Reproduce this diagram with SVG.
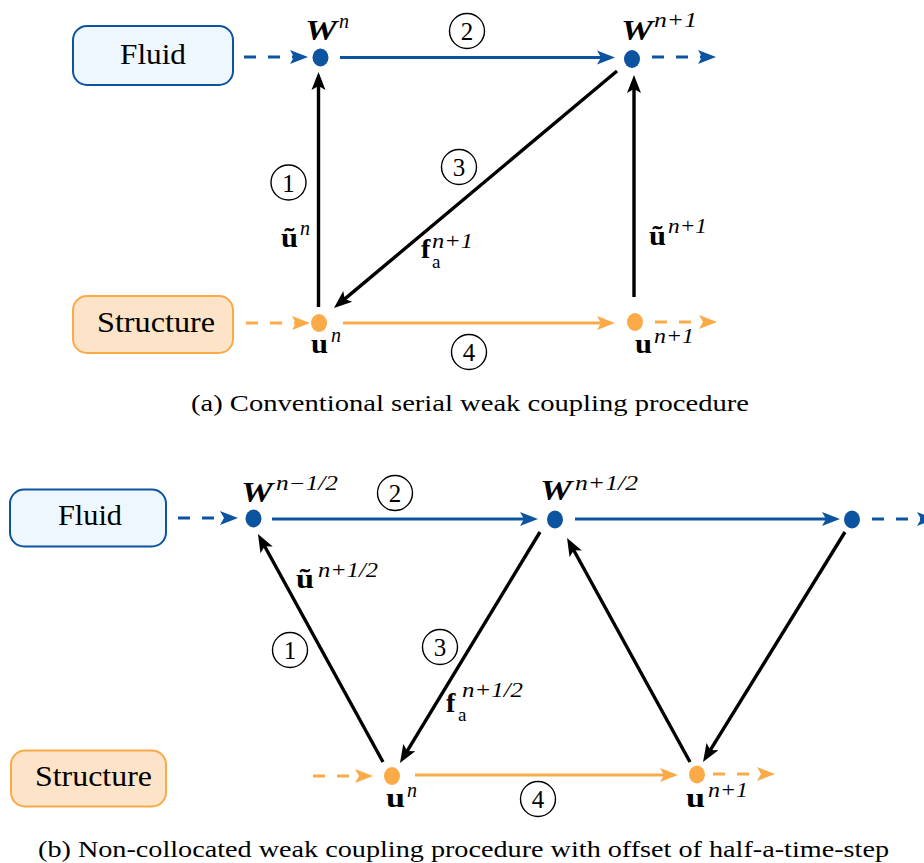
<svg xmlns="http://www.w3.org/2000/svg" width="924" height="863" viewBox="0 0 924 863" font-family="'Liberation Serif', 'DejaVu Serif', 'Times New Roman', serif">
<style>
text{fill:#000}
.box{font-size:30px}
.cap{font-size:24px}
.m{font-size:28px;font-weight:bold}
.wi{font-size:29px;font-weight:bold;font-style:italic}
.sup{font-size:20px;font-style:italic}
.sub{font-size:19px}
.num{font-size:25px;text-anchor:middle}
.circ{fill:none;stroke:#000;stroke-width:1.4}
.fluid rect{fill:#eef6fe;stroke:#0c54a0;stroke-width:2}
.struct rect{fill:#fde3c8;stroke:#fbaa48;stroke-width:2}
.bn{fill:#0c54a0}
.on{fill:#fbaa48}
.lb{stroke:#0c54a0;stroke-width:3.2;fill:none}
.lo{stroke:#fbaa48;stroke-width:3.2;fill:none}
.lk{stroke:#000;stroke-width:3.4;fill:none}
.d{stroke-dasharray:12 12}
</style>
<defs>
<marker id="ab" markerUnits="userSpaceOnUse" markerWidth="20" markerHeight="16" refX="10" refY="7" orient="auto" overflow="visible"><path d="M0,0 L18,7 L0,14 L4,7 Z" fill="#0c54a0"/></marker>
<marker id="ao" markerUnits="userSpaceOnUse" markerWidth="20" markerHeight="16" refX="10" refY="7" orient="auto" overflow="visible"><path d="M0,0 L18,7 L0,14 L4,7 Z" fill="#fbaa48"/></marker>
<marker id="ak" markerUnits="userSpaceOnUse" markerWidth="20" markerHeight="16" refX="10" refY="7" orient="auto" overflow="visible"><path d="M0,0 L18,7 L0,14 L4,7 Z" fill="#000"/></marker>
</defs>

<g id="connectors">
<line class="lb d" x1="244" y1="57" x2="300" y2="57" marker-end="url(#ab)"/>
<line class="lb" x1="340" y1="57.5" x2="607" y2="57.5" marker-end="url(#ab)"/>
<line class="lb d" x1="652" y1="57" x2="708" y2="57" marker-end="url(#ab)"/>
<line class="lk" x1="318.5" y1="307" x2="318.5" y2="80" marker-end="url(#ak)"/>
<line class="lk" x1="617" y1="71" x2="340.1" y2="302.9" marker-end="url(#ak)"/>
<line class="lk" x1="634" y1="297" x2="634" y2="83" marker-end="url(#ak)"/>
<line class="lo d" x1="246" y1="323" x2="302" y2="323" marker-end="url(#ao)"/>
<line class="lo" x1="343" y1="323" x2="607" y2="323" marker-end="url(#ao)"/>
<line class="lo d" x1="655" y1="322" x2="709" y2="322" marker-end="url(#ao)"/>
<line class="lb d" x1="178" y1="518" x2="230" y2="518" marker-end="url(#ab)"/>
<line class="lb" x1="272" y1="519" x2="530" y2="519" marker-end="url(#ab)"/>
<line class="lb" x1="575" y1="519" x2="832" y2="519" marker-end="url(#ab)"/>
<line class="lb d" x1="872" y1="519" x2="927" y2="519" marker-end="url(#ab)"/>
<line class="lk" x1="383" y1="762" x2="261.8" y2="541" marker-end="url(#ak)"/>
<line class="lk" x1="540" y1="532" x2="404.1" y2="756.2" marker-end="url(#ak)"/>
<line class="lk" x1="690" y1="762" x2="570.9" y2="545" marker-end="url(#ak)"/>
<line class="lk" x1="845" y1="532" x2="707.2" y2="755.2" marker-end="url(#ak)"/>
<line class="lo d" x1="313" y1="776" x2="365" y2="776" marker-end="url(#ao)"/>
<line class="lo" x1="415" y1="775" x2="670" y2="775" marker-end="url(#ao)"/>
<line class="lo d" x1="713" y1="774" x2="767" y2="774" marker-end="url(#ao)"/>
</g>

<g id="fluid-a" class="fluid"><rect x="73" y="26" width="160" height="59" rx="14"/><text class="box" x="153" y="64" text-anchor="middle" textLength="66" lengthAdjust="spacingAndGlyphs">Fluid</text></g>
<g id="structure-a" class="struct"><rect x="73" y="296" width="160" height="57" rx="14"/><text class="box" x="156" y="332" text-anchor="middle" textLength="118" lengthAdjust="spacingAndGlyphs">Structure</text></g>

<g id="Wn-a"><ellipse class="bn" cx="320.5" cy="57.5" rx="8" ry="9"/><text class="wi" x="305" y="40" textLength="32" lengthAdjust="spacingAndGlyphs">W</text><text class="sup" x="339" y="28">n</text></g>
<g id="Wn1-a"><ellipse class="bn" cx="632" cy="59" rx="8" ry="9"/><text class="wi" x="621" y="40" textLength="32" lengthAdjust="spacingAndGlyphs">W</text><text class="sup" x="654" y="27" textLength="43" lengthAdjust="spacingAndGlyphs">n+1</text></g>
<g id="un-a"><ellipse class="on" cx="319" cy="323" rx="8" ry="9"/><text class="m" x="311" y="353" textLength="17" lengthAdjust="spacingAndGlyphs">u</text><text class="sup" x="331" y="342">n</text></g>
<g id="un1-a"><ellipse class="on" cx="635" cy="322" rx="8" ry="9"/><text class="m" x="635" y="353" textLength="17" lengthAdjust="spacingAndGlyphs">u</text><text class="sup" x="654" y="343" textLength="40" lengthAdjust="spacingAndGlyphs">n+1</text></g>

<g id="labels-a">
<circle class="circ" cx="288.5" cy="182.5" r="17.5"/><text class="num" x="288.5" y="191.5">1</text>
<circle class="circ" cx="467" cy="31" r="17.5"/><text class="num" x="467" y="40">2</text>
<circle class="circ" cx="459" cy="167" r="17.5"/><text class="num" x="459" y="176">3</text>
<circle class="circ" cx="469" cy="352" r="17.5"/><text class="num" x="469" y="361">4</text>
<text class="m" x="281" y="247" textLength="17" lengthAdjust="spacingAndGlyphs">ũ</text><text class="sup" x="300" y="235">n</text>
<text class="m" x="421" y="258">f</text><text class="sub" x="432" y="268">a</text><text class="sup" x="432" y="248" textLength="41" lengthAdjust="spacingAndGlyphs">n+1</text>
<text class="m" x="649" y="245" textLength="17" lengthAdjust="spacingAndGlyphs">ũ</text><text class="sup" x="668" y="233" textLength="39" lengthAdjust="spacingAndGlyphs">n+1</text>
</g>
<text class="cap" x="191" y="411" textLength="558" lengthAdjust="spacingAndGlyphs">(a) Conventional serial weak coupling procedure</text>

<g id="fluid-b" class="fluid"><rect x="10" y="489.5" width="156" height="57" rx="14"/><text class="box" x="90" y="525" text-anchor="middle" textLength="64" lengthAdjust="spacingAndGlyphs">Fluid</text></g>
<g id="structure-b" class="struct"><rect x="11" y="750.5" width="155" height="56" rx="14"/><text class="box" x="93.5" y="786" text-anchor="middle" textLength="117" lengthAdjust="spacingAndGlyphs">Structure</text></g>

<g id="Wnm-b"><ellipse class="bn" cx="253.5" cy="518.5" rx="8" ry="9"/><text class="wi" x="241" y="502" textLength="32" lengthAdjust="spacingAndGlyphs">W</text><text class="sup" x="276" y="490" textLength="62" lengthAdjust="spacingAndGlyphs">n−1/2</text></g>
<g id="Wnp-b"><ellipse class="bn" cx="555" cy="519.5" rx="8" ry="9"/><text class="wi" x="540" y="500" textLength="32" lengthAdjust="spacingAndGlyphs">W</text><text class="sup" x="575" y="490" textLength="63" lengthAdjust="spacingAndGlyphs">n+1/2</text></g>
<g id="Wn3-b"><ellipse class="bn" cx="852" cy="519.5" rx="8" ry="9"/></g>
<g id="un-b"><ellipse class="on" cx="392" cy="776" rx="8" ry="9"/><text class="m" x="386" y="807" textLength="19" lengthAdjust="spacingAndGlyphs">u</text><text class="sup" x="407" y="797">n</text></g>
<g id="un1-b"><ellipse class="on" cx="697" cy="774.5" rx="8" ry="9"/><text class="m" x="686" y="807" textLength="19" lengthAdjust="spacingAndGlyphs">u</text><text class="sup" x="708" y="797" textLength="40" lengthAdjust="spacingAndGlyphs">n+1</text></g>

<g id="labels-b">
<circle class="circ" cx="290" cy="650" r="17.5"/><text class="num" x="290" y="659">1</text>
<circle class="circ" cx="395" cy="493" r="17.5"/><text class="num" x="395" y="502">2</text>
<circle class="circ" cx="440" cy="647" r="17.5"/><text class="num" x="440" y="656">3</text>
<circle class="circ" cx="538" cy="799" r="17.5"/><text class="num" x="538" y="808">4</text>
<text class="m" x="296" y="588" textLength="18" lengthAdjust="spacingAndGlyphs">ũ</text><text class="sup" x="318" y="577" textLength="60" lengthAdjust="spacingAndGlyphs">n+1/2</text>
<text class="m" x="446" y="712">f</text><text class="sub" x="458" y="721">a</text><text class="sup" x="462" y="697" textLength="61" lengthAdjust="spacingAndGlyphs">n+1/2</text>
</g>
<text class="cap" x="38" y="857" textLength="851" lengthAdjust="spacingAndGlyphs">(b) Non-collocated weak coupling procedure with offset of half-a-time-step</text>
</svg>
